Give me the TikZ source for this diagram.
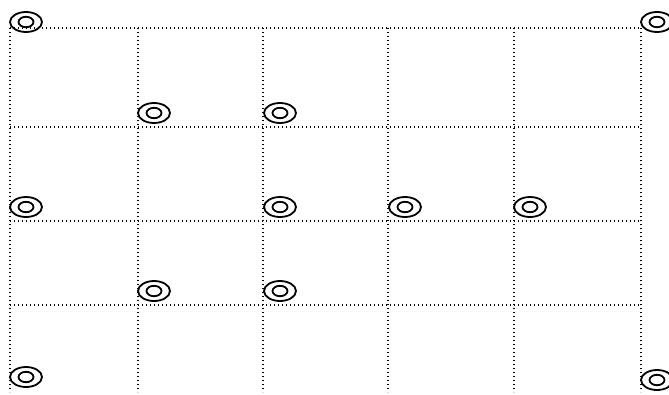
\documentclass[tikz,border=0pt]{standalone}
\begin{document}
\begin{tikzpicture}[x=1pt,y=-1pt,
  gridline/.style={line width=1.2pt,dash pattern=on 1.3pt off 2.7pt},
  ring/.style={line width=1.8pt}]
\useasboundingbox (0,0) rectangle (669,394);
% grid coordinates
\foreach \i/\x in {0/10,1/138,2/263,3/388,4/514,5/641}{
  \coordinate (vt\i) at (\x,28);
  \coordinate (vb\i) at (\x,392);
}
\foreach \j/\y in {0/28,1/127,2/221,3/305}{
  \coordinate (hl\j) at (10,\y);
  \coordinate (hr\j) at (641,\y);
}
\foreach \i in {0,...,5}{\draw[gridline] (vt\i) -- (vb\i);}
\foreach \j in {0,...,3}{\draw[gridline] (hl\j) -- (hr\j);}
% double rings
\foreach \n/\x/\y in {a/26/22, b/154/113, c/280/113, d/657/22,
  e/26/207, f/280/207, g/405/207, h/530/207,
  i/154/291, k/280/291, l/26/377, m/657/380}{
  \coordinate (\n) at (\x,\y);
  \draw[ring] (\n) ellipse [x radius=16, y radius=10];
  \draw[ring] (\n) ellipse [x radius=7.5, y radius=5.2];
}
\end{tikzpicture}
\end{document}
